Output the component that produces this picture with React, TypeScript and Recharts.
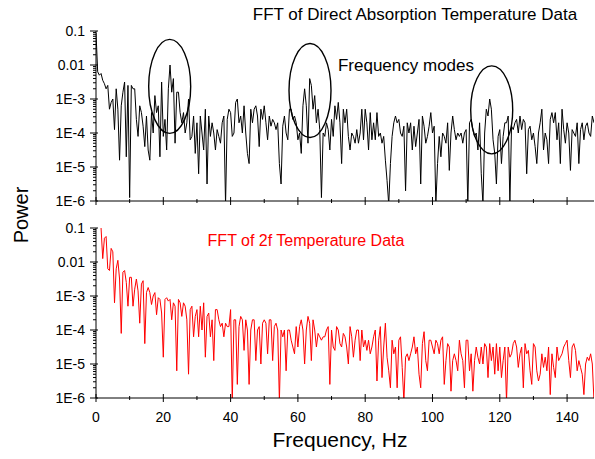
import React from 'react';
import { LineChart, Line, XAxis, YAxis, ReferenceDot } from 'recharts';

// FFT bins are 0.5 Hz apart; values below are log10(power)
const binWidth = 0.5;

const directLog = [
  -1.05, -2.2, -2.3, -2.25, -2.45, -2.55, -2.7, -2.6, -3.3, -3.1,
  -3.0, -3.9, -2.7, -3.3, -4.8, -3.2, -2.8, -2.5, -4.7, -2.6,
  -5.9, -2.6, -2.7, -2.7, -3.6, -4.1, -3.2, -3.4, -3.8, -4.4,
  -3.5, -4.5, -4.8, -3.4, -4.0, -2.9, -3.4, -3.2, -4.7, -2.5,
  -4.1, -3.6, -4.5, -2.7, -2.0, -2.8, -2.4, -4.3, -2.8, -2.8,
  -3.4, -3.7, -3.4, -4.0, -3.7, -3.0, -4.2, -4.1, -3.5, -4.6,
  -3.7, -5.2, -3.5, -4.0, -4.5, -3.3, -5.5, -3.5, -4.1, -3.7,
  -4.0, -4.5, -3.9, -4.1, -4.3, -3.7, -3.5, -6.1, -3.6, -3.3,
  -3.4, -4.1, -4.0, -3.1, -3.0, -3.7, -3.5, -4.0, -3.2, -4.0,
  -4.6, -4.9, -3.3, -3.7, -3.3, -3.2, -3.5, -4.4, -3.3, -3.6,
  -3.2, -3.7, -4.2, -3.5, -3.8, -3.6, -3.7, -3.9, -3.7, -4.9,
  -5.5, -3.8, -3.5, -4.0, -4.2, -3.3, -3.3, -3.6, -3.5, -3.7,
  -4.2, -4.0, -4.6, -3.2, -2.7, -3.2, -4.3, -2.4, -2.6, -3.3,
  -2.9, -3.7, -3.3, -3.9, -5.9, -4.0, -4.1, -3.7, -3.9, -4.5,
  -3.6, -4.1, -3.2, -3.6, -3.1, -3.7, -4.9, -3.3, -3.7, -3.3,
  -4.1, -4.5, -4.0, -4.1, -4.3, -3.9, -4.3, -4.0, -3.3, -4.2,
  -3.3, -3.7, -4.5, -3.4, -4.2, -3.7, -4.2, -3.4, -4.1, -4.0,
  -4.3, -4.1, -4.8, -5.4, -6.1, -4.9, -4.1, -3.7, -3.5, -3.7,
  -3.6, -4.0, -4.1, -3.8, -5.7, -3.7, -4.0, -3.7, -4.5, -3.8,
  -4.4, -4.0, -3.6, -5.5, -3.5, -3.8, -4.3, -4.1, -3.8, -3.4,
  -4.0, -3.8, -6.1, -4.9, -4.1, -4.7, -4.0, -4.1, -4.3, -3.7,
  -5.1, -4.0, -3.5, -3.9, -4.2, -4.0, -4.1, -4.0, -4.3, -4.0,
  -3.9, -6.1, -3.7, -3.6, -3.9, -4.1, -4.0, -4.5, -3.7, -5.2,
  -6.1, -4.0, -3.3, -3.5, -3.0, -3.3, -4.2, -4.6, -5.5, -4.1,
  -3.9, -4.9, -4.1, -3.7, -3.7, -3.5, -6.1, -3.8, -3.9, -3.7,
  -3.6, -4.0, -3.5, -3.9, -3.6, -3.7, -5.2, -3.9, -3.8, -4.2,
  -4.0, -4.4, -4.9, -4.0, -3.7, -3.3, -4.5, -4.0, -4.2, -4.9,
  -3.6, -3.4, -3.7, -3.4, -4.2, -3.7, -4.9, -3.3, -3.9, -4.3,
  -3.7, -4.0, -5.1, -3.9, -4.0, -4.1, -3.7, -4.9, -3.9, -3.7,
  -4.2, -3.8, -3.7, -4.0, -4.1, -3.5, -3.7,
];

const twoFLog: (number | null)[] = [
  null, null, null, -1.0, -1.9, -1.3, -1.25, -2.2, -2.25, -1.6,
  -1.7, -3.2, -2.2, -1.95, -2.5, -4.1, -2.3, -2.25, -2.6, -3.3,
  -2.45, -2.45, -3.3, -2.8, -2.5, -2.85, -3.8, -2.65, -2.55, -4.4,
  -2.9, -2.75, -2.9, -3.25, -3.0, -2.9, -3.55, -3.05, -3.1, -3.5,
  -4.8, -3.1, -3.05, -3.15, -3.1, -3.7, -3.2, -3.3, -5.2, -3.1,
  -3.2, -3.6, -3.2, -3.3, -3.7, -5.3, -3.4, -3.3, -4.2, -3.6,
  -3.4, -4.2, -3.3, -4.0, -3.2, -4.8, -3.6, -3.5, -4.2, -3.7,
  -4.9, -3.4, -3.4, -3.7, -3.9, -3.8, -4.2, -3.8, -3.9, -3.9,
  -3.4, -6.1, -3.7, -3.7, -5.6, -3.9, -3.6, -3.7, -4.6, -3.7,
  -4.0, -5.6, -4.0, -3.7, -3.7, -4.9, -4.0, -3.9, -5.0, -3.8,
  -3.7, -3.8, -4.7, -3.7, -3.7, -4.9, -3.9, -3.8, -4.0, -6.1,
  -4.0, -4.2, -4.0, -5.2, -4.0, -4.0, -4.3, -4.5, -4.7, -3.9,
  -4.5, -3.9, -3.7, -4.0, -5.0, -4.0, -3.6, -3.8, -4.9, -3.7,
  -4.0, -4.5, -4.1, -4.2, -4.3, -4.2, -4.2, -4.0, -3.9, -5.6,
  -4.0, -4.5, -4.6, -3.9, -4.0, -4.4, -4.5, -4.1, -4.2, -4.5,
  -5.0, -3.9, -4.2, -4.8, -4.3, -4.0, -4.0, -4.9, -4.0, -4.5,
  -4.3, -4.6, -4.3, -4.7, -4.5, -4.2, -4.0, -5.5, -4.3, -3.9,
  -5.4, -4.5, -3.8, -4.8, -5.2, -5.7, -4.3, -4.7, -4.5, -5.7,
  -4.3, -4.2, -5.1, -6.1, -4.8, -4.7, -4.9, -4.7, -4.5, -4.2,
  -4.7, -4.5, -5.3, -5.7, -4.4, -4.05, -4.9, -5.2, -4.3, -4.3,
  -4.5, -4.7, -4.3, -4.4, -4.7, -4.3, -4.2, -5.6, -4.9, -4.4,
  -4.5, -5.8, -4.9, -4.7, -4.9, -5.2, -4.3, -4.7, -4.9, -5.7,
  -4.3, -4.3, -5.2, -4.7, -5.8, -4.9, -4.5, -4.8, -5.0, -4.5,
  -5.0, -4.4, -4.5, -5.4, -4.4, -4.9, -4.5, -5.3, -4.4, -5.2,
  -4.5, -5.4, -4.9, -4.5, -6.1, -4.5, -4.8, -4.7, -4.4, -4.3,
  -4.5, -5.1, -4.7, -4.5, -5.7, -4.4, -4.7, -4.6, -5.2, -5.6,
  -4.4, -4.5, -5.2, -5.5, -5.3, -4.7, -5.1, -4.8, -5.2, -4.5,
  -5.9, -4.7, -5.1, -5.4, -4.5, -4.9, -4.8, -4.7, -4.5, -4.4,
  -4.3, -4.9, -5.4, -4.5, -4.4, -4.6, -5.2, -4.9, -5.1, -5.3,
  -5.9, -5.0, -4.8, -4.9, -4.7, -5.0, -6.1,
];

const xTicks = [0, 10, 20, 30, 40, 50, 60, 70, 80, 90, 100, 110, 120, 130, 140];
const yMajor = [0.1, 0.01, 1e-3, 1e-4, 1e-5, 1e-6];
const yTickLabels = ['0.1', '0.01', '1E-3', '1E-4', '1E-5', '1E-6'];

// circled "frequency modes" in the upper panel
const modeFreqs = [21.9, 63.6, 117.6];
const modeLogPower = [-2.63, -2.75, -3.32];

const rows = directLog.map((e, i) => ({
  freq: i * binWidth,
  direct: Math.pow(10, e),
  twoF: twoFLog[i] == null ? null : Math.pow(10, twoFLog[i] as number),
}));

const yTicks: number[] = [];
yMajor.forEach((m) => {
  yTicks.push(m);
  if (m < 0.1) for (let k = 2; k <= 9; k++) yTicks.push(k * m);
});

const font = '"Liberation Sans", Arial, Helvetica, sans-serif';

const YTick = (props: any) => {
  const { x, y, payload } = props;
  const idx = yMajor.findIndex((m) => Math.abs(Math.log10(payload.value) - Math.log10(m)) < 1e-6);
  if (idx < 0) return <line x1={x - 3} x2={x} y1={y} y2={y} stroke="#000" strokeWidth={1} />;
  return (
    <g>
      <line x1={x - 6} x2={x + 2} y1={y} y2={y} stroke="#000" strokeWidth={1} />
      <text x={x - 11} y={y} dy={5} textAnchor="end" fontSize={14} fontFamily={font} fill="#000">
        {yTickLabels[idx]}
      </text>
    </g>
  );
};

const makeXTick = (showLabels: boolean) => (props: any) => {
  const { x, y, payload } = props;
  const major = payload.value % 20 === 0;
  const len = major ? 4 : 2;
  return (
    <g>
      <line x1={x} x2={x} y1={y - len} y2={y + len} stroke="#000" strokeWidth={1} />
      {showLabels && major && (
        <text x={x} y={y + 24} textAnchor="middle" fontSize={14} fontFamily={font} fill="#000">
          {payload.value}
        </text>
      )}
    </g>
  );
};

const TopXTick = makeXTick(false);
const BottomXTick = makeXTick(true);

const axisCommon = {
  tickSize: 0,
  tickMargin: 0,
  tickLine: false,
  interval: 0 as const,
  axisLine: { stroke: '#000', strokeWidth: 1 },
};

export default function App() {
  return (
    <div style={{ position: 'absolute', left: 0, top: 0, width: 595, height: 459, background: '#fff' }}>
      <div style={{ position: 'absolute', left: 0, top: 0 }}>
        <LineChart width={595} height={215} data={rows} margin={{ top: 31, right: 1, bottom: 0, left: 0 }}>
          <XAxis
            dataKey="freq"
            type="number"
            domain={[0, 148]}
            allowDataOverflow
            ticks={xTicks}
            height={14}
            tick={<TopXTick />}
            {...axisCommon}
          />
          <YAxis
            scale="log"
            domain={[1e-6, 0.1]}
            allowDataOverflow
            ticks={yTicks}
            width={96}
            tick={<YTick />}
            {...axisCommon}
          />
          <Line
            type="linear"
            dataKey="direct"
            stroke="#000"
            strokeWidth={1}
            dot={false}
            isAnimationActive={false}
          />
          {modeFreqs.map((f, i) => (
            <ReferenceDot
              key={i}
              x={f}
              y={Math.pow(10, modeLogPower[i])}
              r={0}
              shape={(p: any) => (
                <ellipse cx={p.cx} cy={p.cy} rx={21} ry={i === 2 ? 44 : 47} fill="none" stroke="#000" strokeWidth={1.4} />
              )}
            />
          ))}
        </LineChart>
      </div>
      <div style={{ position: 'absolute', left: 0, top: 205 }}>
        <LineChart width={595} height={254} data={rows} margin={{ top: 23, right: 1, bottom: 0, left: 0 }}>
          <XAxis
            dataKey="freq"
            type="number"
            domain={[0, 148]}
            allowDataOverflow
            ticks={xTicks}
            height={61}
            tick={<BottomXTick />}
            {...axisCommon}
          />
          <YAxis
            scale="log"
            domain={[1e-6, 0.1]}
            allowDataOverflow
            ticks={yTicks}
            width={96}
            tick={<YTick />}
            {...axisCommon}
          />
          <Line
            type="linear"
            dataKey="twoF"
            stroke="#ff0000"
            strokeWidth={1}
            dot={false}
            isAnimationActive={false}
          />
        </LineChart>
      </div>
      <svg width={595} height={459} style={{ position: 'absolute', left: 0, top: 0, pointerEvents: 'none' }}>
        <text x={415} y={20} textAnchor="middle" fontSize={17} fontFamily={font} fill="#000">
          FFT of Direct Absorption Temperature Data
        </text>
        <text x={406} y={71} textAnchor="middle" fontSize={17} fontFamily={font} fill="#000">
          Frequency modes
        </text>
        <text x={306} y={246} textAnchor="middle" fontSize={16} fontFamily={font} fill="#ff0000">
          FFT of 2f Temperature Data
        </text>
        <text
          x={28}
          y={215}
          transform="rotate(-90 28 215)"
          textAnchor="middle"
          fontSize={20}
          fontFamily={font}
          fill="#000"
        >
          Power
        </text>
        <text x={340} y={447} textAnchor="middle" fontSize={21} fontFamily={font} fill="#000">
          Frequency, Hz
        </text>
      </svg>
    </div>
  );
}
